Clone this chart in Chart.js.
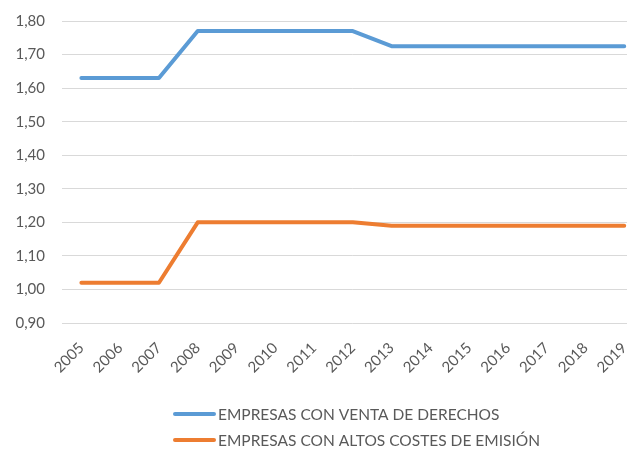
<!DOCTYPE html>
<html>
<head>
<meta charset="utf-8">
<script src="https://cdn.jsdelivr.net/npm/chart.js@4/dist/chart.umd.min.js"></script>
<style>
  html, body { margin: 0; padding: 0; background: #fff; overflow: hidden; }
  #wrap { width: 627px; height: 457px; overflow: hidden; position: relative; }
  #box { width: 645px; height: 457px; position: absolute; left: 0; top: 0; }
</style>
</head>
<body>
<div id="wrap"><div id="box"><canvas id="c"></canvas></div></div>
<script>
const years = ['2005','2006','2007','2008','2009','2010','2011','2012','2013','2014','2015','2016','2017','2018','2019'];
const ventaDerechos = [1.63,1.63,1.63,1.77,1.77,1.77,1.77,1.77,1.725,1.725,1.725,1.725,1.725,1.725,1.725];
const altosCostes = [1.02,1.02,1.02,1.20,1.20,1.20,1.20,1.20,1.19,1.19,1.19,1.19,1.19,1.19,1.19];
const seriesNames = ['EMPRESAS CON VENTA DE DERECHOS','EMPRESAS CON ALTOS COSTES DE EMISIÓN'];
const seriesColors = ['#5B9BD5','#ED7D31'];
const yTickValues = [0.9,1.0,1.1,1.2,1.3,1.4,1.5,1.6,1.7,1.8];

const FONT = 'Lato, "Liberation Sans", sans-serif';
const TEXT = '#595959';

const legendPlugin = {
  id: 'stackedLegend',
  afterDraw(chart) {
    const ctx = chart.ctx;
    ctx.save();
    ctx.font = '15.5px ' + FONT;
    ctx.textBaseline = 'middle';
    ctx.textAlign = 'left';
    const rows = [414, 440];
    chart.data.datasets.forEach((ds, i) => {
      const y = rows[i];
      ctx.strokeStyle = ds.borderColor;
      ctx.lineWidth = 4;
      ctx.lineCap = 'round';
      ctx.beginPath();
      ctx.moveTo(175, y);
      ctx.lineTo(214, y);
      ctx.stroke();
      ctx.fillStyle = TEXT;
      ctx.fillText(ds.label, 218, y + 1);
    });
    ctx.restore();
  }
};

new Chart(document.getElementById('c'), {
  type: 'line',
  data: {
    labels: years,
    datasets: [
      { label: seriesNames[0], data: ventaDerechos, borderColor: seriesColors[0], backgroundColor: seriesColors[0] },
      { label: seriesNames[1], data: altosCostes, borderColor: seriesColors[1], backgroundColor: seriesColors[1] }
    ]
  },
  options: {
    responsive: true,
    maintainAspectRatio: false,
    animation: false,
    events: [],
    elements: {
      line: { borderWidth: 4, tension: 0, borderCapStyle: 'round', borderJoinStyle: 'round' },
      point: { radius: 0 }
    },
    layout: { padding: { top: 21, left: 0, right: 1, bottom: 0 } },
    plugins: {
      legend: { display: false },
      tooltip: { enabled: false }
    },
    scales: {
      x: {
        offset: true,
        grid: { display: false },
        border: { display: false },
        afterFit(scale) { scale.height = 134; },
        ticks: {
          color: TEXT,
          font: { family: FONT, size: 15 },
          maxRotation: 45,
          minRotation: 45,
          autoSkip: false,
          padding: 8
        }
      },
      y: {
        min: 0.9,
        max: 1.8,
        afterBuildTicks(scale) { scale.ticks = yTickValues.map(v => ({ value: v })); },
        afterFit(scale) { scale.width = 62; },
        grid: { color: '#D9D9D9', lineWidth: 1, drawTicks: true, tickLength: 14, tickColor: 'rgba(0,0,0,0)' },
        border: { display: false },
        ticks: {
          color: TEXT,
          font: { family: FONT, size: 15 },
          padding: 3,
          callback: (v) => Number(v).toFixed(2).replace('.', ',')
        }
      }
    }
  },
  plugins: [legendPlugin]
});
</script>
</body>
</html>
